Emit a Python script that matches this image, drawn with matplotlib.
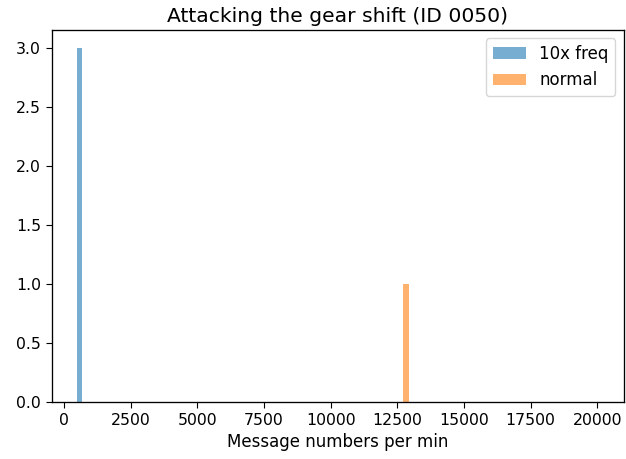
import matplotlib
matplotlib.use("Agg")
import matplotlib.pyplot as plt
import numpy as np

# -----------------------------
# Data (message counts per min)
# -----------------------------

attack_counts = [585, 585, 585]     # 10x freq
normal_counts = [12830]             # normal
bin_edges = np.arange(480, 20100, 204)

# -----------------------------
# Style
# -----------------------------

plt.rcParams.update({
    "xtick.labelsize": 11.3,
    "ytick.labelsize": 11.3,
    "xtick.major.size": 4.2,
    "ytick.major.size": 4.2,
    "axes.linewidth": 0.95,
})

# -----------------------------
# Figure
# -----------------------------

fig, ax = plt.subplots(figsize=(6.26, 4.59), dpi=100)
fig.subplots_adjust(left=0.0826, right=0.9963, bottom=0.124, top=0.935)

ax.hist(attack_counts, bins=bin_edges, alpha=0.6, label="10x freq")
ax.hist(normal_counts, bins=bin_edges, alpha=0.6, label="normal")

ax.set_xlim(-461, 20990)
ax.set_xticks(np.arange(0, 20001, 2500))
ax.set_title("Attacking the gear shift (ID 0050)", fontsize=14.6)
ax.set_xlabel("Message numbers per min", fontsize=12)
ax.legend(loc="upper right", fontsize=12)

plt.savefig("out.png", dpi=100)
plt.close()
